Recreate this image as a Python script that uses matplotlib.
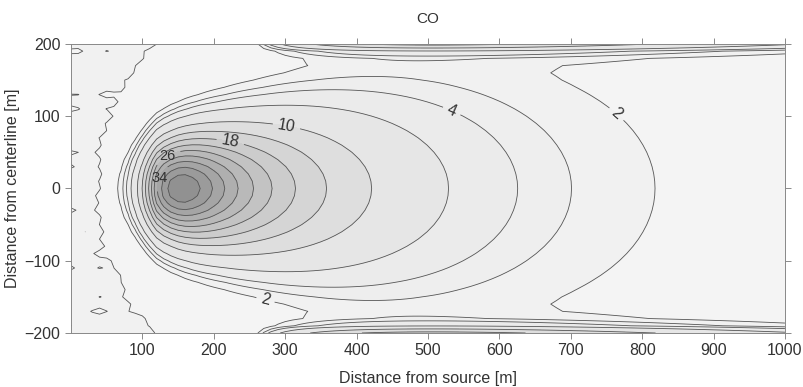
import numpy as np
import matplotlib
matplotlib.use("Agg")
from matplotlib import pyplot as plt

plt.rcParams['font.family'] = ['Liberation Sans', 'DejaVu Sans']

# contour levels of CO
levels = [2, 3, 4, 6, 10, 14, 18, 22, 26, 30, 34, 38, 42]
label_levels = [2, 4, 10, 18, 26, 34]
x_ticks = [100, 200, 300, 400, 500, 600, 700, 800, 900, 1000]
y_ticks = [-200, -100, 0, 100, 200]

# plume parameters estimated from where the contours cross the centreline
x_ref = 818.0        # centreline drops to 2 here
c_ref = 2.0
decay_offset = 300.0
decay_power = 3.67
onset_x = 122.0
onset_w_up = 13.5
onset_w_down = 20.0
sigma0 = 35.0
spread = 0.22
edge_peak = 14.0
edge_start = 250.0
edge_depth = 8.0

xs = np.arange(0, 1001, 10.0)
ys = np.arange(-200, 201, 10.0)
X, Y = np.meshgrid(xs, ys)

centre = c_ref * ((x_ref + decay_offset) / (X + decay_offset)) ** decay_power
w = np.where(X < onset_x, onset_w_up, onset_w_down)
onset = 1 / (1 + np.exp(-(X - onset_x) / w))
sigma = np.hypot(sigma0, spread * X)
plume = centre * onset * np.exp(-Y ** 2 / (2 * sigma ** 2))

# build-up along the side walls
u = np.clip((X - edge_start) / 250, 0, None)
edge = edge_peak * u * np.exp(1 - u) * np.exp(-(200 - np.abs(Y)) / edge_depth)

# ragged inlet zone on the left
xb = 45 + 80 * (Y / 200) ** 2
rows = np.where(np.arange(len(ys)) % 2 == 0, 1.0, -1.0)[:, None]
texture = 0.2 * rows + 0.4 * np.sin(0.05 * X + 0.04 * Y) * np.cos(0.045 * Y - 0.08 * X + 1.3)
inlet = (2.4 + texture) / (1 + np.exp((X - xb) / 6))

conc = plume + edge + inlet

fig = plt.figure(figsize=(8.04, 3.87), dpi=100)
ax = fig.add_axes([0.0883, 0.1395, 0.888, 0.747])

fill_levels = [-1] + levels + [200]
greys = ['#f4f4f4', '#f1f1f1', '#eeeeee', '#ebebeb', '#e6e6e6', '#dedede', '#d5d5d5',
         '#cccccc', '#c3c3c3', '#b9b9b9', '#afafaf', '#a5a5a5', '#9b9b9b', '#919191']
ax.contourf(X, Y, conc, levels=fill_levels, colors=greys)

plain_levels = [v for v in levels if v not in label_levels]
ax.contour(X, Y, conc, levels=plain_levels, colors='#555555', linewidths=0.6)
cs = ax.contour(X, Y, conc, levels=label_levels, colors='#555555', linewidths=0.6)

spots = [(765, 104), (272, -156), (535, 111), (302, 87), (223, 64), (135, 45), (123, 15)]
labels = ax.clabel(cs, manual=spots, inline=True, fmt='%d', fontsize=11.5, colors='#333333')
for t in labels[-2:]:
    t.set_rotation(0)
    t.set_fontsize(10.5)

ax.set_xlim(0, 1000)
ax.set_ylim(-200, 200)
ax.set_xticks(x_ticks)
ax.set_yticks(y_ticks)
ax.tick_params(direction='out', length=4, width=0.6, color='#777777',
               top=True, right=True, labelsize=11.5, labelcolor='#333333')
for s in ax.spines.values():
    s.set_color('#888888')
    s.set_linewidth(0.7)

ax.set_title('CO', fontsize=11, color='#333333', pad=15)
ax.set_xlabel('Distance from source [m]', fontsize=11.5, color='#333333', labelpad=9)
ax.set_ylabel('Distance from centerline [m]', fontsize=11.5, color='#333333', labelpad=3)

fig.savefig('out.png', dpi=100)
